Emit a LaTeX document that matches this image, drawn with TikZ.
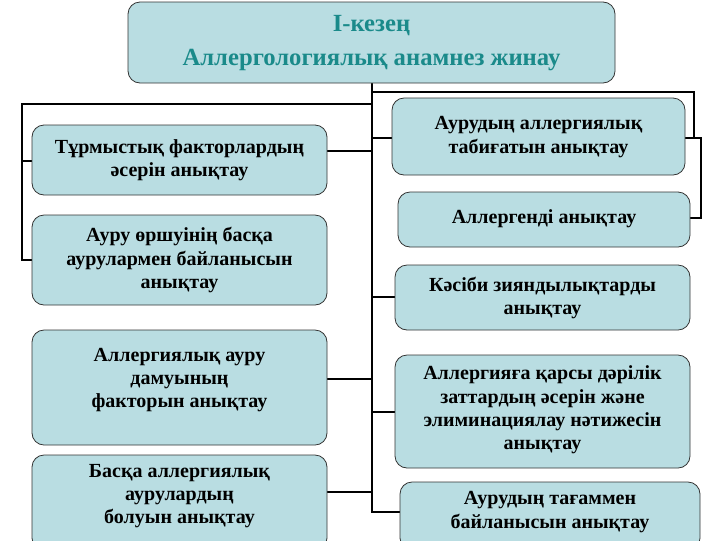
\documentclass[tikz,border=0pt]{standalone}
\usepackage{fontspec}
\setmainfont{Liberation Serif}
\definecolor{boxfill}{HTML}{B9DDE2}
\definecolor{titlecol}{HTML}{1A8A8A}
\begin{document}
\begin{tikzpicture}[x=0.75pt,y=-0.75pt,
  bx/.style={draw=black!80,fill=boxfill,rounded corners=9pt,line width=0.6pt},
  txt/.style={align=center,font=\bfseries\fontsize{15}{17.5}\selectfont},
  ln/.style={line width=1.5pt}]
\useasboundingbox (0,0) rectangle (720,540);
\begin{scope}
\clip (0,0) rectangle (720,540);
% connectors
\coordinate (top) at (372,83);
\draw[ln] (top) -- (372,512) -- (400,512);
\draw[ln] (372,104) -- (22,104) -- (22,260) -- (32,260);
\draw[ln] (22,161) -- (32,161);
\draw[ln] (372,92) -- (694,92) -- (694,138) -- (685,138);
\draw[ln] (685,138) -- (701,138) -- (701,218) -- (690,218);
\draw[ln] (327,151) -- (372,151);
\draw[ln] (327,379) -- (372,379);
\draw[ln] (327,492) -- (372,492);
\draw[ln] (372,138) -- (392,138);
\draw[ln] (372,297) -- (395,297);
\draw[ln] (372,412) -- (395,412);
% title
\draw[bx] (128,2) rectangle (615,83);
\node[txt,text=titlecol,font=\bfseries\fontsize{18.5}{26}\selectfont] (t) at (371.5,43) {I-кезең\\Аллергологиялық анамнез жинау};
% left
\draw[bx] (32,125) rectangle (327,195);
\node[txt] (l1) at (179.5,160) {Тұрмыстық факторлардың\\әсерін анықтау};
\draw[bx] (32,215) rectangle (327,305);
\node[txt] (l2) at (179.5,260) {Ауру өршуінің басқа\\аурулармен байланысын\\анықтау};
\draw[bx] (32,330) rectangle (327,445);
\node[txt] (l3) at (179.5,380) {Аллергиялық ауру\\дамуының\\факторын анықтау};
\draw[bx] (32,455) rectangle (327,550);
\node[txt] (l4) at (179.5,496) {Басқа аллергиялық\\аурулардың\\болуын анықтау};
% right
\draw[bx] (392,98) rectangle (685,175);
\node[txt] (r1) at (538.5,137) {Аурудың аллергиялық\\табиғатын анықтау};
\draw[bx] (398,192) rectangle (690,247);
\node[txt] (r2) at (544,219) {Аллергенді анықтау};
\draw[bx] (395,265) rectangle (690,330);
\node[txt] (r3) at (542.5,298) {Кәсіби зияндылықтарды\\анықтау};
\draw[bx] (395,355) rectangle (690,468);
\node[txt] (r4) at (542.5,410) {Аллергияға қарсы дәрілік\\заттардың әсерін және\\элиминациялау нәтижесін\\анықтау};
\draw[bx] (400,482) rectangle (700,550);
\node[txt] (r5) at (550,512) {Аурудың тағаммен\\байланысын анықтау};
\end{scope}
\end{tikzpicture}
\end{document}
